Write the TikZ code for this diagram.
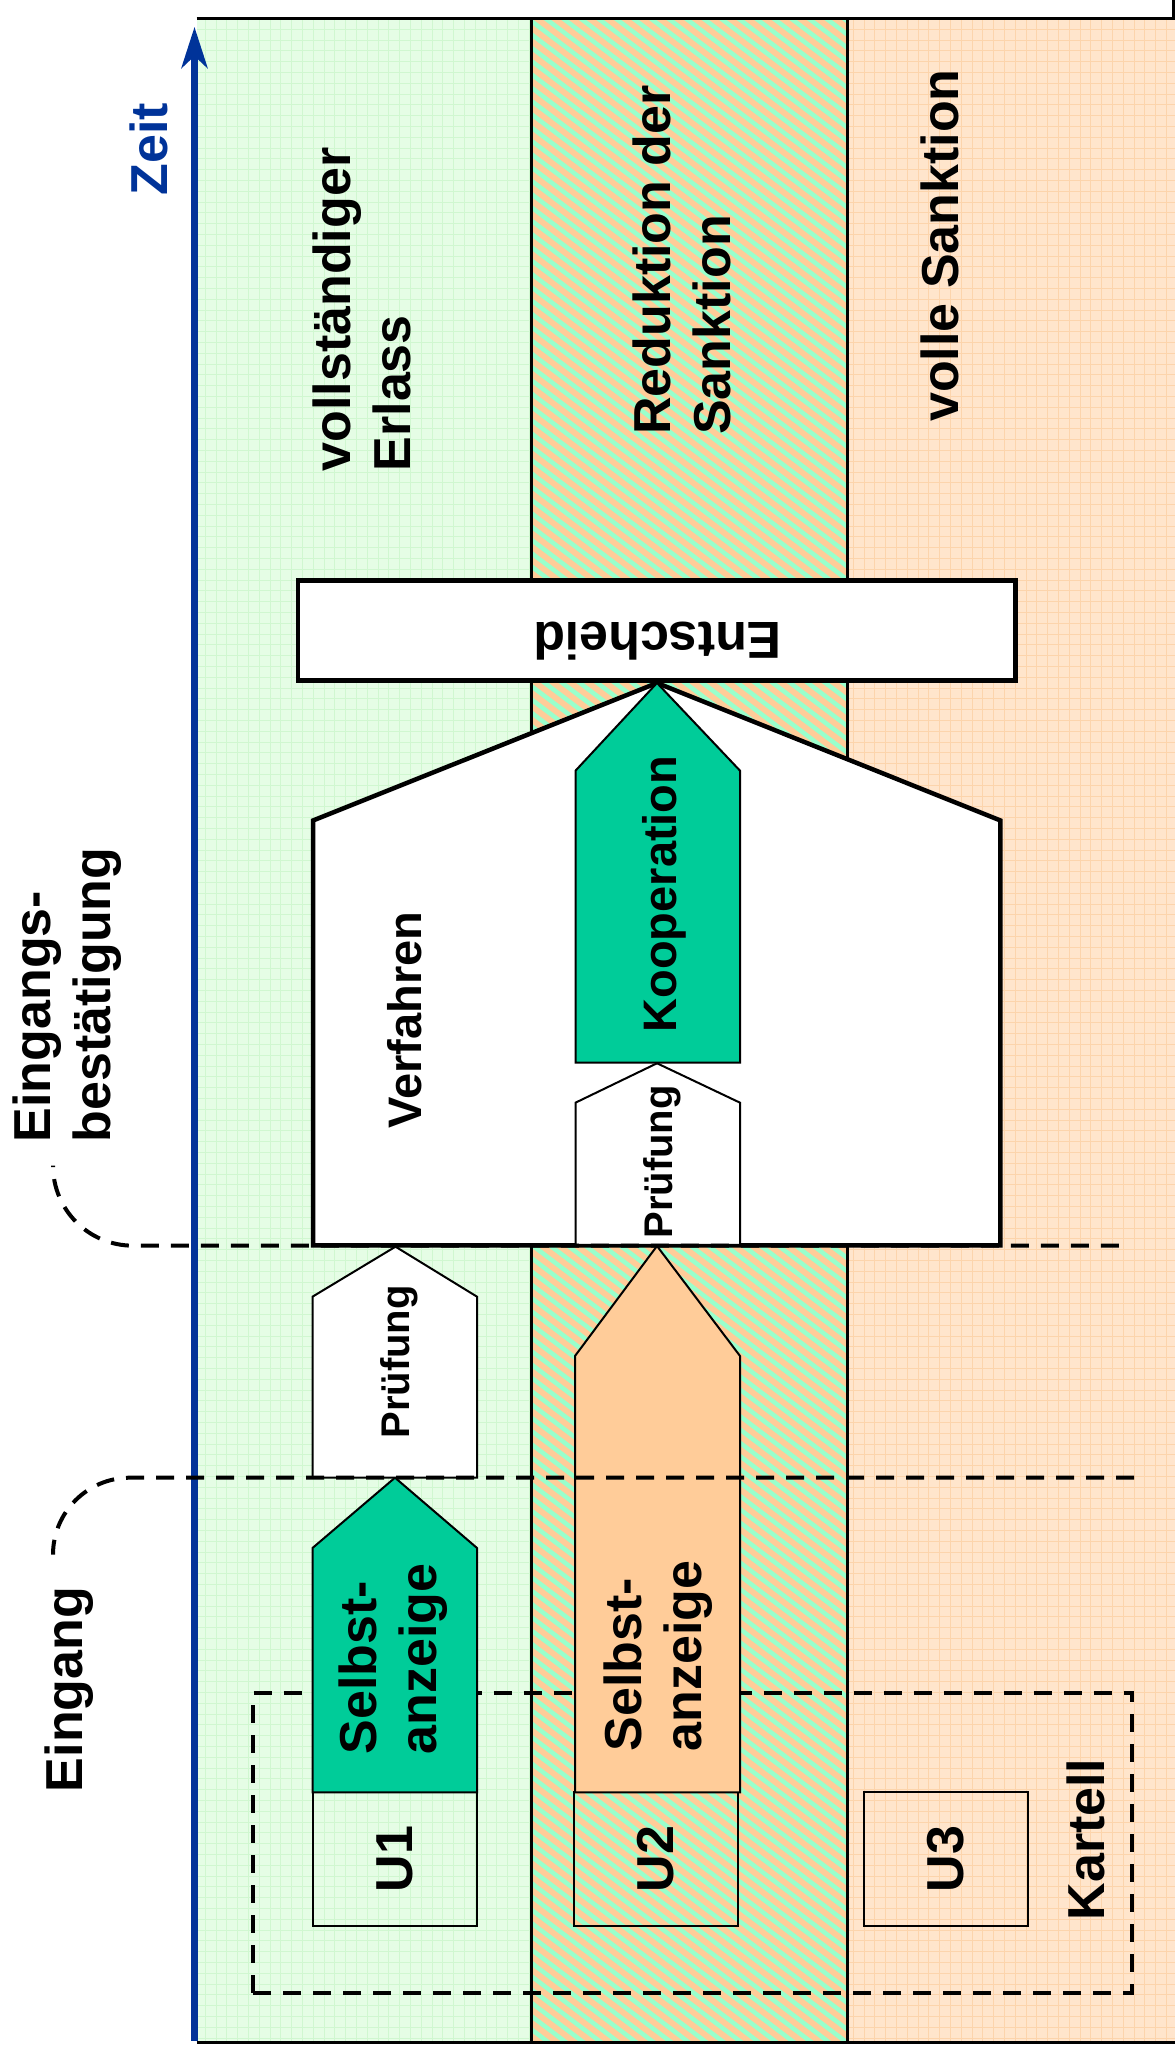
\documentclass[tikz,border=0pt]{standalone}
\usepackage{fontspec}
\setmainfont{Liberation Sans}
\usetikzlibrary{arrows.meta}

\definecolor{zeitblue}{RGB}{0,51,153}
\definecolor{erlassbg}{RGB}{229,253,229}
\definecolor{erlassgrid}{RGB}{208,247,208}
\definecolor{sanktbg}{RGB}{255,229,204}
\definecolor{sanktgrid}{RGB}{252,212,172}
\definecolor{hatchorange}{RGB}{255,204,153}
\definecolor{hatchgreen}{RGB}{153,255,204}
\definecolor{koopgreen}{RGB}{0,204,153}

\begin{document}
\begin{tikzpicture}[x=1pt,y=1pt,
	lbl/.style={rotate=90,inner sep=0pt,align=left,font=\fontsize{52}{60}\selectfont\bfseries},
	midlbl/.style={lbl,font=\fontsize{47}{55}\selectfont\bfseries},
	smalllbl/.style={lbl,font=\fontsize{40}{48}\selectfont\bfseries},
	thinline/.style={draw=black,line width=2pt},
	thickline/.style={draw=black,line width=4.5pt},
	ubox/.style={thinline,rotate=90,minimum width=134pt,minimum height=164pt,inner sep=0pt,font=\fontsize{52}{60}\selectfont\bfseries},
	stage/.style={dash pattern=on 18pt off 12pt,line width=4pt}]

		\useasboundingbox (0,0) rectangle (1175,2049);

		% columns
		\fill[erlassbg] (196.7,6.6) rectangle (531,2030.7);
		\draw[erlassgrid,line width=1pt,step=10.8] (196.7,6.6) grid (531,2030.7);
		\fill[hatchorange] (531,6.6) rectangle (847.5,2030.7);
		\begin{scope}
			\clip (531,6.6) rectangle (847.5,2030.7);
			\foreach \k in {0,...,172}
				\draw[hatchgreen,line width=4.5pt] (531,6.6+13.3*\k) -- ++(316.5,-240);
		\end{scope}
		\fill[sanktbg] (847.5,6.6) rectangle (1175,2030.7);
		\draw[sanktgrid,line width=1pt,step=10.8] (847.5,6.6) grid (1175,2030.7);

		\draw[line width=2.5pt] (196.7,2030.7) -- (1173.5,2030.7) -- (1173.5,2049);
		\draw[line width=2.5pt] (196.7,6.6) -- (1175,6.6);
		\draw[line width=3pt] (531,6.6) -- (531,2030.7) (847.5,6.6) -- (847.5,2030.7);

		% time axis
		\draw[zeitblue,line width=7pt,-{Stealth[length=41pt,width=26pt,inset=12pt]}] (194.5,8) -- (194.5,2022);
		\node[lbl,zeitblue] (zeit) at (149,1900) {Zeit};

		\node[lbl] (erlass) at (361.6,1739.5) {vollständiger\\Erlass};
		\node[lbl] (reduktion) at (682,1789) {Reduktion der\\Sanktion};
		\node[lbl] (volle) at (940,1803.5) {volle Sanktion};

		% cartel
		\draw[stage] (253.3,56.3) rectangle (1132.3,356);
		\node[lbl] (kartell) at (1086,209.5) {Kartell};
		\node[ubox] (u1) at (395,189.8) {U1};
		\node[ubox] (u2) at (655.7,189.8) {U2};
		\node[ubox] (u3) at (946,189.8) {U3};

		% steps
		\filldraw[thinline,fill=koopgreen] (312.5,256.6) -- (477,256.6) -- (477,501) -- (395,571.3) -- (312.5,501) -- cycle;
		\node[lbl] (selbst1) at (393,390) {Selbst-\\anzeige};
		\filldraw[thinline,fill=white] (312.5,571.3) -- (477,571.3) -- (477,752.3) -- (395.5,802.3) -- (312.5,752.3) -- cycle;
		\node[smalllbl] (pruef1) at (399,687) {Prüfung};

		\filldraw[thinline,fill=hatchorange] (575,256.6) -- (740,256.6) -- (740,693) -- (657,803) -- (575,693) -- cycle;
		\node[lbl] (selbst2) at (658.5,393) {Selbst-\\anzeige};

		\filldraw[thickline,fill=white] (313,803.5) -- (1000.4,803.5) -- (1000.4,1228.5) -- (657,1366) -- (313,1228.5) -- cycle;
		\node[midlbl] (verfahren) at (404.5,1029) {Verfahren};
		\filldraw[thinline,fill=white] (575.5,804) -- (740,804) -- (740,946.3) -- (657,985.7) -- (575.5,946.3) -- cycle;
		\node[smalllbl] (pruef2) at (662.5,887) {Prüfung};
		\filldraw[thinline,fill=koopgreen] (575.5,986.3) -- (740,986.3) -- (740,1278.3) -- (657,1366) -- (575.5,1278.3) -- cycle;
		\node[midlbl] (koop) at (664.5,1155) {Kooperation};

		\filldraw[thickline,fill=white] (298.2,1368.3) rectangle (1015.4,1468.3);
		\node[lbl,rotate=90] (entscheid) at (657.5,1408) {Entscheid};

		% milestones
		\draw[stage] (1134,571.3) -- (130,571.3) arc[start angle=90,end angle=180,radius=77];
		\node[lbl] (eingang) at (69.5,359.5) {Eingang};
		\draw[stage] (1118.8,803.3) -- (133,803.3) arc[start angle=270,end angle=180,radius=80];
		\node[lbl] (bestaetigung) at (67,1054) {Eingangs-\\bestätigung};
	\end{tikzpicture}
\end{document}
